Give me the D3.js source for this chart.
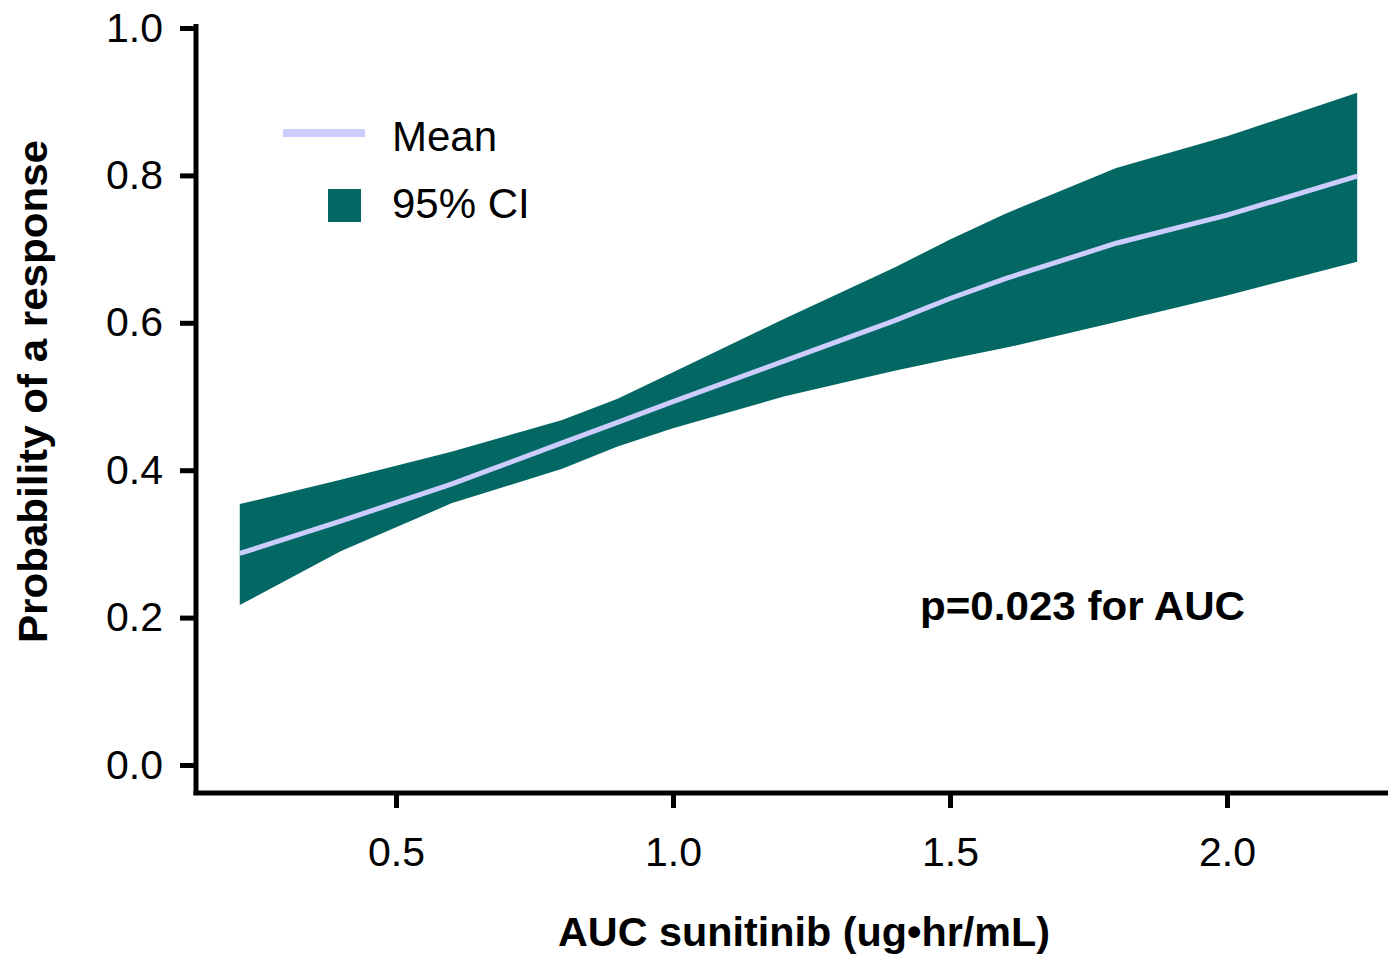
<!DOCTYPE html>
<html>
<head>
<meta charset="utf-8">
<script src="https://cdn.jsdelivr.net/npm/d3@7"></script>
<style>
  html, body { margin: 0; padding: 0; background: #fff; }
  svg { display: block; }
  text { font-family: "Liberation Sans", Arial, sans-serif; fill: #000; }
</style>
</head>
<body>
<svg id="chart" width="1388" height="955"></svg>
<script>
// Data
const auc   = [0.218, 0.4,   0.6,   0.8,   0.9,   1.0,   1.2,   1.4,   1.5,   1.6,   1.8,   2.0,   2.235];
const mean  = [0.287, 0.331, 0.381, 0.437, 0.465, 0.493, 0.548, 0.603, 0.633, 0.660, 0.708, 0.746, 0.799];
const upper = [0.354, 0.387, 0.425, 0.468, 0.497, 0.533, 0.605, 0.675, 0.713, 0.748, 0.810, 0.853, 0.912];
const lower = [0.217, 0.290, 0.355, 0.402, 0.432, 0.457, 0.500, 0.535, 0.551, 0.566, 0.601, 0.637, 0.683];
const xTicks = [0.5, 1.0, 1.5, 2.0];
const yTicks = [0.0, 0.2, 0.4, 0.6, 0.8, 1.0];
const legendLabels = ["Mean", "95% CI"];
const annotation = "p=0.023 for AUC";
const xTitle = "AUC sunitinib (ug\u2022hr/mL)";
const yTitle = "Probability of a response";

const bandColor = "#036864";
const lineColor = "#CCCCFF";

const svg = d3.select("#chart");
const x = d3.scaleLinear().domain([0.5, 2.0]).range([396, 1227]);
const y = d3.scaleLinear().domain([0, 1]).range([765, 28]);

const rows = auc.map((a, i) => ({a, m: mean[i], u: upper[i], l: lower[i]}));

// band
svg.append("path")
  .datum(rows)
  .attr("fill", bandColor)
  .attr("d", d3.area().x(d => x(d.a)).y0(d => y(d.l)).y1(d => y(d.u)));

// mean line
svg.append("path")
  .datum(rows)
  .attr("fill", "none")
  .attr("stroke", lineColor)
  .attr("stroke-width", 5)
  .attr("d", d3.line().x(d => x(d.a)).y(d => y(d.m)));

const FONT = "'Liberation Sans', Arial, sans-serif";

// Y axis
const yAxis = svg.append("g")
  .attr("transform", "translate(196,0)")
  .call(d3.axisLeft(y).tickValues(yTicks).tickFormat(d3.format(".1f")).tickSize(16).tickPadding(17));
yAxis.select(".domain").remove();
yAxis.append("line").attr("x1", 0).attr("x2", 0).attr("y1", 24).attr("y2", 795)
  .attr("stroke", "#000").attr("stroke-width", 5);
yAxis.selectAll(".tick line").attr("stroke", "#000").attr("stroke-width", 5);
yAxis.selectAll(".tick text").style("font-size", "41px").attr("fill", "#000").style("font-family", FONT);

// X axis
const xAxis = svg.append("g")
  .attr("transform", "translate(0,793)")
  .call(d3.axisBottom(x).tickValues(xTicks).tickFormat(d3.format(".1f")).tickSize(15).tickPadding(29));
xAxis.select(".domain").remove();
xAxis.append("line").attr("x1", 193.5).attr("x2", 1388).attr("y1", 0).attr("y2", 0)
  .attr("stroke", "#000").attr("stroke-width", 5);
xAxis.selectAll(".tick line").attr("stroke", "#000").attr("stroke-width", 5);
xAxis.selectAll(".tick text").style("font-size", "41px").attr("fill", "#000").style("font-family", FONT);

// Axis titles
svg.append("text")
  .attr("x", 558).attr("y", 946)
  .attr("textLength", 492).attr("lengthAdjust", "spacingAndGlyphs")
  .style("font-size", "41px").style("font-weight", "bold")
  .text(xTitle);

svg.append("text")
  .attr("transform", "translate(47,643) rotate(-90)")
  .attr("textLength", 503).attr("lengthAdjust", "spacingAndGlyphs")
  .style("font-size", "41px").style("font-weight", "bold")
  .text(yTitle);

// Legend
svg.append("line")
  .attr("x1", 283).attr("x2", 365).attr("y1", 133).attr("y2", 133)
  .attr("stroke", lineColor).attr("stroke-width", 8);
svg.append("text").attr("x", 392).attr("y", 151).style("font-size", "42px").text(legendLabels[0]);
svg.append("rect").attr("x", 328).attr("y", 189).attr("width", 33).attr("height", 33).attr("fill", bandColor);
svg.append("text").attr("x", 392).attr("y", 218).style("font-size", "42px").text(legendLabels[1]);

// Annotation
svg.append("text")
  .attr("x", 920).attr("y", 620)
  .attr("textLength", 325).attr("lengthAdjust", "spacingAndGlyphs")
  .style("font-size", "40px").style("font-weight", "bold")
  .text(annotation);
</script>
</body>
</html>
